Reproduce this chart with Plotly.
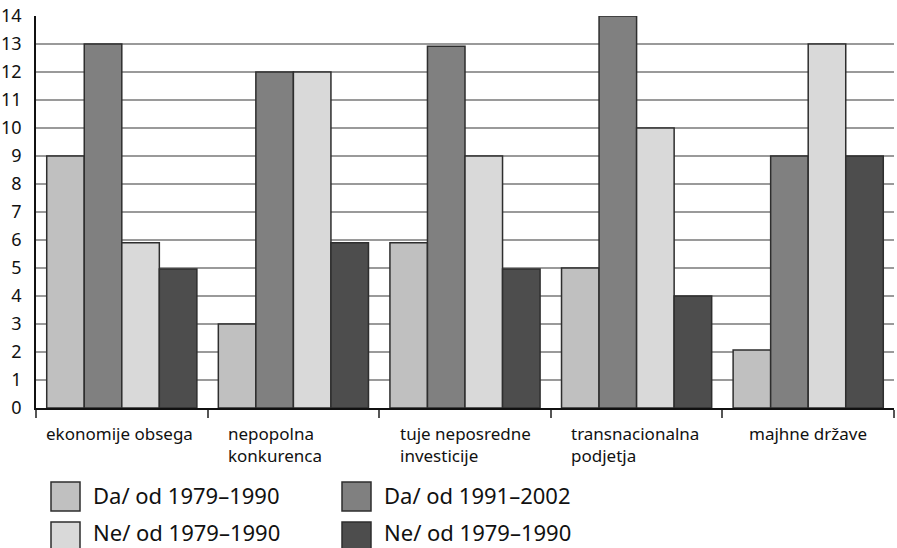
import plotly.graph_objects as go

categories = ["ekonomije obsega", "nepopolna<br>konkurenca", "tuje neposredne<br>investicije",
              "transnacionalna<br>podjetja", "majhne države"]
cat_keys = ["c1", "c2", "c3", "c4", "c5"]
series_names = ["Da/ od 1979–1990", "Da/ od 1991–2002", "Ne/ od 1979–1990", "Ne/ od 1979–1990"]
da_79_90 = [9, 3, 5.9, 5, 2.07]
da_91_02 = [13, 12, 12.92, 14, 9]
ne_79_90_a = [5.9, 12, 9, 10, 13]
ne_79_90_b = [4.96, 5.9, 4.96, 4, 9]
y_ticks = list(range(0, 15))

colors = ["#c0c0c0", "#808080", "#d9d9d9", "#4d4d4d"]
series = [da_79_90, da_91_02, ne_79_90_a, ne_79_90_b]
label_xshift = [-2, -18, 0, -2, 0]  # style: horizontal nudge of category labels (px)

FONT = "Noto Sans"
W, H = 897, 548
ML, MR, MT, MB = 36, 3, 16, 140
PW, PH = W - ML - MR, H - MT - MB

fig = go.Figure()
for name, vals, col in zip(series_names, series, colors):
    fig.add_trace(go.Bar(x=cat_keys, y=vals, name=name, marker=dict(color=col, line=dict(color="#2e2e2e", width=1.5))))

# category labels as annotations (left-aligned multi-line)
for k, lab, dx in zip(cat_keys, categories, label_xshift):
    fig.add_annotation(x=k, y=0, xref="x", yref="y", text=lab, showarrow=False, xanchor="center", yanchor="top",
                       align="left", yshift=-12, xshift=dx, font=dict(family=FONT, size=17, color="#111"))

# custom legend 2x2 (page-pixel positions)
def px_x(x):
    return (x - ML) / PW

def px_y(y):
    return (MT + PH - y) / PH

legend_pos = [(51, 482, 495), (342, 482, 495), (51, 522, 532), (342, 522, 532)]
for (lx, ly, ty), name, col in zip(legend_pos, series_names, colors):
    fig.add_shape(type="rect", xref="paper", yref="paper", x0=px_x(lx), x1=px_x(lx + 29), y0=px_y(ly), y1=px_y(ly + 29),
                  fillcolor=col, line=dict(color="#2e2e2e", width=1.5))
    fig.add_annotation(xref="paper", yref="paper", x=px_x(lx + 40), y=px_y(ty), text=name, showarrow=False,
                       xanchor="left", yanchor="middle", font=dict(family=FONT, size=22, color="#111"))

fig.update_layout(
    width=W, height=H, margin=dict(l=ML, r=MR, t=MT, b=MB, autoexpand=False),
    plot_bgcolor="white", paper_bgcolor="white", showlegend=False,
    barmode="group", bargap=0.125, bargroupgap=0,
    font=dict(family=FONT, color="#111"),
)
fig.update_yaxes(range=[0, 14], tickvals=y_ticks, ticktext=[str(v) for v in y_ticks], showgrid=True,
                 gridcolor="#9a9a9a", gridwidth=1.5, showline=True, linecolor="#111", linewidth=1.5,
                 ticks="", ticklabelstandoff=9, tickfont=dict(family=FONT, size=18, color="#111"), zeroline=False,
                 automargin=False)
fig.update_xaxes(showticklabels=False, showline=True, linecolor="#111", linewidth=1.5, ticks="outside",
                 tickson="boundaries", ticklen=8, tickcolor="#555", tickwidth=1.5, automargin=False)

fig.write_html("out.html", config={"displayModeBar": False},
               post_script="document.body.style.margin='0px';document.body.style.overflow='hidden';")
